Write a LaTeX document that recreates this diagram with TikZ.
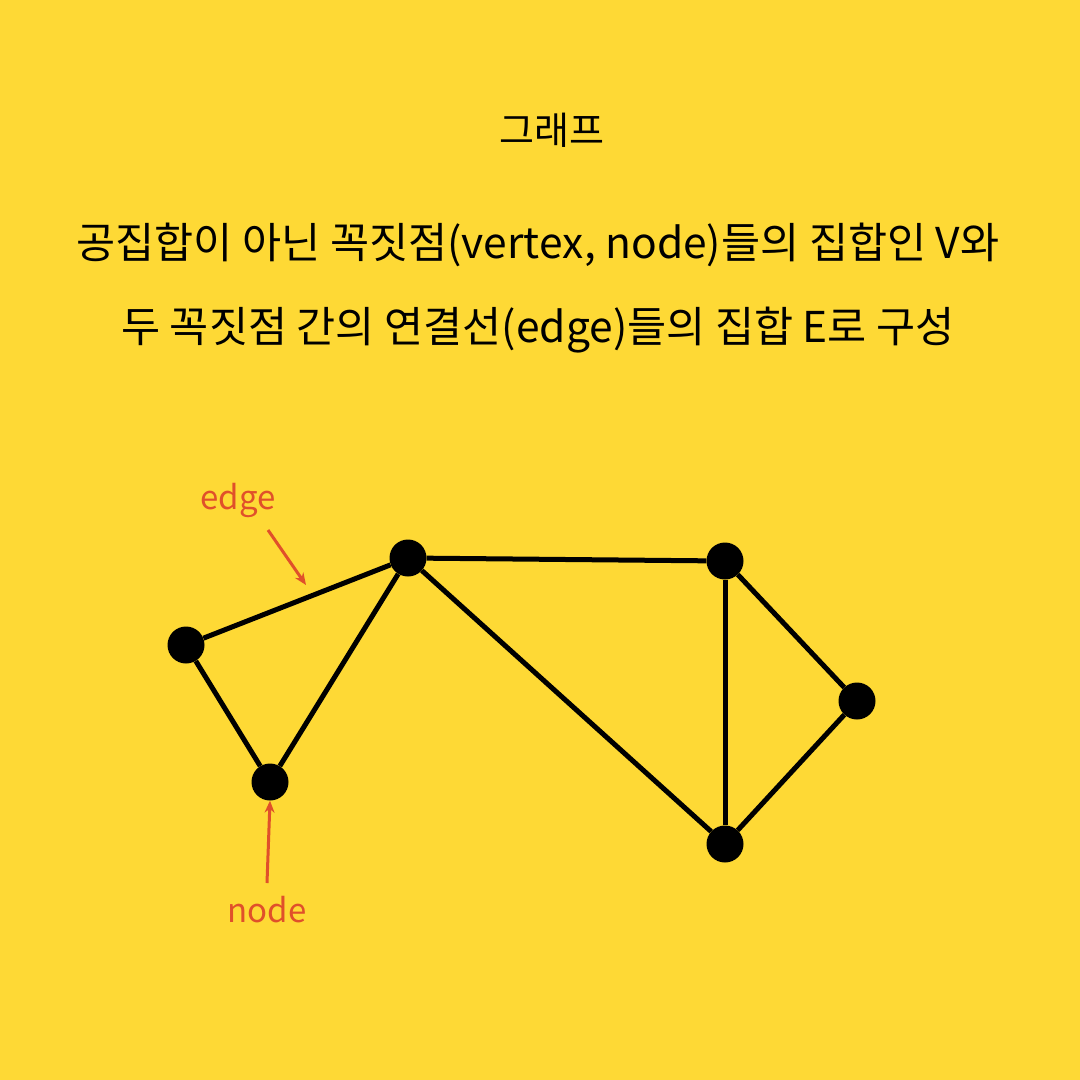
\documentclass[tikz,border=0pt]{standalone}
\usepackage{fontspec}
\setmainfont{Noto Sans CJK KR}
\usetikzlibrary{arrows.meta}
\definecolor{bg}{HTML}{FED935}
\definecolor{lbl}{HTML}{E0502A}
\tikzset{
  vtx/.style={circle,fill=black,inner sep=0pt,minimum size=37pt},
  link/.style={line width=5pt,black},
  note/.style={line width=3pt,lbl,-{Stealth[length=12pt,width=10pt]}},
  notetext/.style={text=lbl,font=\fontsize{33}{38}\selectfont},
  body/.style={font=\fontsize{42.5}{50}\selectfont,text=black},
  headline/.style={font=\fontsize{38}{45}\selectfont,text=black}
}
\begin{document}
\begin{tikzpicture}[x=1pt,y=-1pt]
\fill[bg] (0,0) rectangle (1080,1080);
\useasboundingbox (0,0) rectangle (1080,1080);
\node[headline] (title) at (552,130) {그래프};
\node[body] (l1) at (538,245) {공집합이 아닌 꼭짓점(vertex, node)들의 집합인 V와};
\node[body] (l2) at (538,330) {두 꼭짓점 간의 연결선(edge)들의 집합 E로 구성};
\node[vtx] (A) at (186,645) {};
\node[vtx] (B) at (408,558) {};
\node[vtx] (C) at (270,782) {};
\node[vtx] (D) at (725,561) {};
\node[vtx] (E) at (857,701) {};
\node[vtx] (F) at (725,844) {};
\draw[link] (A) -- (B);
\draw[link] (A) -- (C);
\draw[link] (C) -- (B);
\draw[link] (B) -- (D);
\draw[link] (B) -- (F);
\draw[link] (D) -- (F);
\draw[link] (D) -- (E);
\draw[link] (E) -- (F);
\node[notetext] (edgelbl) at (238,500) {edge};
\node[notetext] (nodelbl) at (267,910) {node};
\coordinate (et) at (268,530);
\coordinate (eh) at (306,585);
\coordinate (nt) at (267,883);
\draw[note] (et) -- (eh);
\draw[note] (nt) -- (C.south);
\end{tikzpicture}
\end{document}
